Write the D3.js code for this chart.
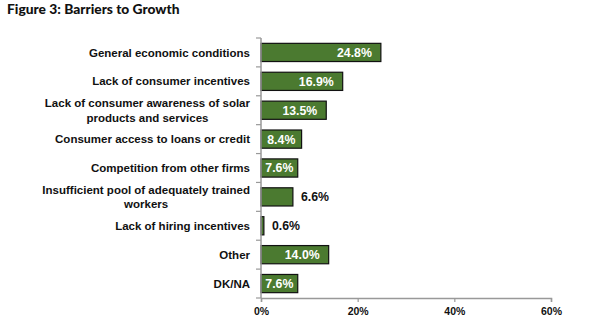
<!DOCTYPE html>
<meta charset="utf-8">
<script src="https://cdn.jsdelivr.net/npm/d3@7"></script>
<style>
  body { margin: 0; background: #fff; }
  text { font-family: "Liberation Sans", Arial, sans-serif; font-weight: bold; }
</style>
<div id="chart"></div>
<script>

// data
var categories = [
  ["General economic conditions"],
  ["Lack of consumer incentives"],
  ["Lack of consumer awareness of solar", "products and services"],
  ["Consumer access to loans or credit"],
  ["Competition from other firms"],
  ["Insufficient pool of adequately trained", "workers"],
  ["Lack of hiring incentives"],
  ["Other"],
  ["DK/NA"]
]
var values = [24.8, 16.9, 13.5, 8.4, 7.6, 6.6, 0.6, 14.0, 7.6]
var labelInside = [true, true, true, true, true, false, false, true, true]
var xTicks = [0, 20, 40, 60]

var width = 600, height = 332
var svg = d3.select("#chart").append("svg")
  .attr("width", width)
  .attr("height", height)

svg.append("text")
  .attr("x", 7)
  .attr("y", 14)
  .style("font-family", "Lato, 'Open Sans', sans-serif")
  .style("font-size", "13.8px")
  .style("font-weight", "900")
  .style("fill", "#111")
  .text("Figure 3: Barriers to Growth")

var x = d3.scaleLinear().domain([0, 60]).range([261, 551])
var y = d3.scaleBand().domain(d3.range(values.length)).range([38, 298]).paddingInner(0.37).paddingOuter(0.185)

// bars
svg.selectAll("rect.bar")
  .data(values)
  .enter()
  .append("rect")
    .attr("class", "bar")
    .attr("x", x(0))
    .attr("y", function(d, i) { return y(i) })
    .attr("width", function(d) { return x(d) - x(0) })
    .attr("height", y.bandwidth())
    .style("fill", "#4b7a30")
    .style("stroke", "#111")
    .style("stroke-width", 1.2)

// value labels
svg.selectAll("text.val")
  .data(values)
  .enter()
  .append("text")
    .attr("class", "val")
    .attr("y", function(d, i) { return y(i) + y.bandwidth() / 2 })
    .attr("dy", "0.36em")
    .style("font-size", "12.3px")
    .style("fill", function(d, i) { return labelInside[i] ? "#fff" : "#111" })
    .attr("text-anchor", function(d, i) { return labelInside[i] ? "end" : "start" })
    .text(function(d) { return d.toFixed(1) + "%" })
    .attr("x", function(d, i) {
      var end = x(d)
      if (!labelInside[i]) return end + 8
      var tw = this.getComputedTextLength()
      var off = Math.min(9, (end - x(0) - tw) / 2)
      return end - off
    })

// y axis line and ticks
svg.append("line")
  .attr("x1", x(0)).attr("x2", x(0))
  .attr("y1", 38).attr("y2", 298)
  .style("stroke", "#999").style("stroke-width", 1.5)

var yTickPos = d3.range(values.length + 1).map(function(i) { return 38 + i * (260 / values.length) })
svg.selectAll("line.ytick")
  .data(yTickPos)
  .enter()
  .append("line")
    .attr("class", "ytick")
    .attr("x1", x(0) - 5).attr("x2", x(0))
    .attr("y1", function(d) { return d }).attr("y2", function(d) { return d })
    .style("stroke", "#999").style("stroke-width", 1.2)

// x axis
var xAxis = svg.append("g")
  .attr("transform", "translate(0,298)")
  .call(d3.axisBottom(x).tickValues(xTicks).tickSize(4).tickFormat(function(d) { return d + "%" }))
xAxis.select(".domain").style("stroke", "#999").style("stroke-width", 1.5)
xAxis.selectAll(".tick line").style("stroke", "#999").style("stroke-width", 1.2)
xAxis.selectAll(".tick text")
  .attr("y", 10)
  .style("font-size", "10.5px")
  .style("font-family", "'Liberation Sans', Arial, sans-serif")
  .style("font-weight", "bold")
  .style("fill", "#111")

// category labels
var catG = svg.selectAll("g.cat")
  .data(categories)
  .enter()
  .append("g")
    .attr("class", "cat")

catG.each(function(lines, i) {
  var g = d3.select(this)
  var cy = y(i) + y.bandwidth() / 2
  var lh = 14.5
  var t = g.append("text")
    .style("font-size", "11.5px")
    .style("fill", "#111")
    .attr("text-anchor", "middle")
  lines.forEach(function(line, j) {
    t.append("tspan")
      .attr("y", cy + (j - (lines.length - 1) / 2) * lh)
      .attr("dy", "0.36em")
      .text(line)
  })
  var maxW = 0
  t.selectAll("tspan").each(function() { maxW = Math.max(maxW, this.getComputedTextLength()) })
  t.selectAll("tspan").attr("x", 250 - maxW / 2)
})

</script>
